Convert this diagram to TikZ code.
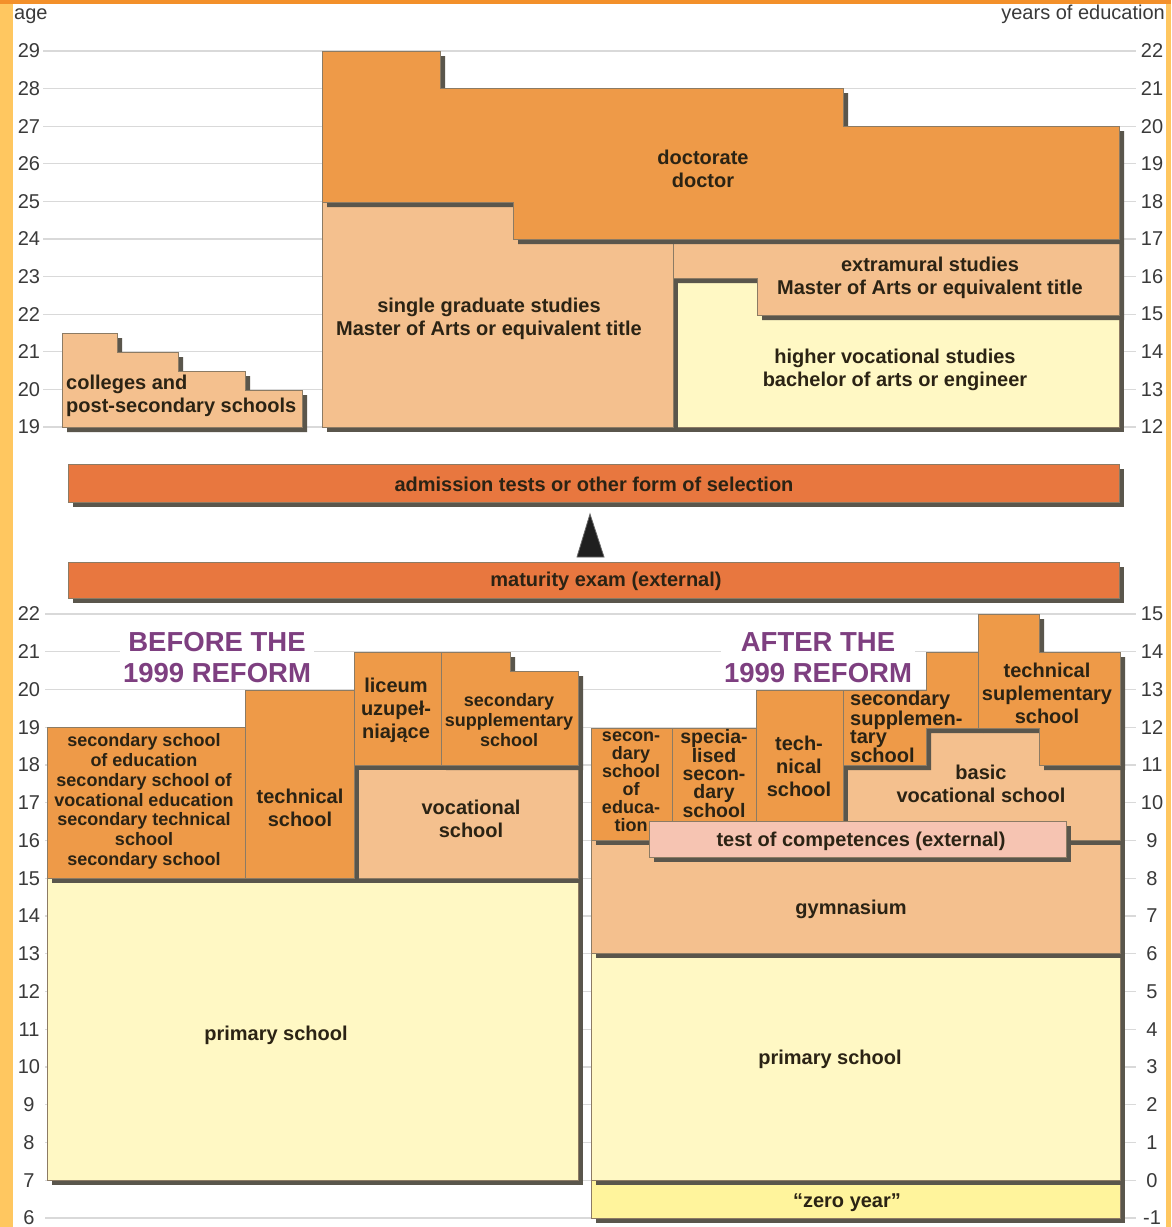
\documentclass[tikz,border=0pt]{standalone}
\usepackage{fontspec}
\setmainfont{Liberation Sans}

\definecolor{deep}{HTML}{EE9A48}
\definecolor{pale}{HTML}{F4C08E}
\definecolor{cream}{HTML}{FFF8C4}
\definecolor{zeroc}{HTML}{FFF49C}
\definecolor{barc}{HTML}{E8773F}
\definecolor{testc}{HTML}{F6C4B2}
\definecolor{shade}{HTML}{5A564C}
\definecolor{edge}{HTML}{8C7B64}
\definecolor{ink}{HTML}{2B2314}
\definecolor{plum}{HTML}{7E3F80}
\definecolor{gridc}{HTML}{D9D9D9}
\definecolor{axisc}{HTML}{3A3A3A}
\definecolor{frameA}{HTML}{FFC760}
\definecolor{frameB}{HTML}{F3902A}

\begin{document}
\begin{tikzpicture}[x=1pt,y=-1pt,
  blk/.style={draw=edge,line width=0.6pt,fill=#1,
    preaction={fill=shade,transform canvas={xshift=5pt,yshift=-5pt}}},
  lbl/.style={text=ink,align=center,inner sep=0pt,
    font=\bfseries\fontsize{20}{23}\selectfont},
  lbls/.style={lbl,font=\bfseries\fontsize{18}{19.8}\selectfont},
  lblt/.style={lbl,font=\bfseries\fontsize{18}{18}\selectfont},
  ttl/.style={text=plum,align=center,fill=white,inner sep=3pt,
    font=\bfseries\fontsize{27.5}{31}\selectfont},
  axl/.style={text=axisc,inner sep=0pt,font=\fontsize{20}{20}\selectfont},
  gridline/.style={draw=gridc,line width=1.2pt}]
\useasboundingbox (0,0) rectangle (1171,1227);

% frame
\fill[white] (0,0) rectangle (1171,1227);
\fill[frameA] (0,0) rectangle (13,1227);
\fill[frameA] (1166,0) rectangle (1171,1227);
\fill[frameB] (0,0) rectangle (1171,4);

\node[axl,anchor=base west] (agehead) at (14,19) {age};
\node[axl,anchor=base east] (yearhead) at (1165,19) {years of education};

% upper scale: ages 19--29
\foreach \a in {19,...,29}{
  \pgfmathsetmacro{\yy}{51+(29-\a)*37.6}
  \pgfmathtruncatemacro{\yr}{\a-7}
  \draw[gridline] (43,\yy) -- (1136,\yy);
  \node[axl] (ageU\a) at (29,\yy) {\a};
  \node[axl] (yrU\a) at (1152,\yy) {\yr};
}

% lower scale: ages 6--22
\foreach \a in {6,...,22}{
  \pgfmathsetmacro{\yy}{614+(22-\a)*37.75}
  \pgfmathtruncatemacro{\yr}{\a-7}
  \draw[gridline] (45,\yy) -- (1136,\yy);
  \node[axl] (ageL\a) at (29,\yy) {\a};
  \node[axl] (yrL\a) at (1152,\yy) {\yr};
}

% higher education
\draw[blk=cream] (673,278) rectangle (1119,427);
\draw[blk=pale] (322,202) rectangle (673,427);
\draw[blk=pale] (673,239) -- (1119,239) -- (1119,315) -- (757,315) -- (757,278) -- (673,278) -- cycle;
\draw[blk=deep] (322,51) -- (440,51) -- (440,88) -- (843,88) -- (843,126) -- (1119,126)
  -- (1119,239) -- (513,239) -- (513,202) -- (322,202) -- cycle;
\draw[blk=pale] (62,333) -- (117,333) -- (117,352) -- (178,352) -- (178,371) -- (245,371)
  -- (245,390) -- (302,390) -- (302,427) -- (62,427) -- cycle;

\node[lbl] (doct) at (703,168.5) {doctorate\\doctor};
\node[lbl] (sgs) at (489,319) {single graduate studies\\Master of Arts or equivalent title};
\node[lbl] (extr) at (930,278) {extramural studies\\Master of Arts or equivalent title};
\node[lbl] (hvs) at (895,370) {higher vocational studies\\bachelor of arts or engineer};
\node[lbl,anchor=west,align=left] (coll) at (66,396) {colleges and\\post-secondary schools};

% selection bars
\draw[blk=barc] (68,464) rectangle (1119,502);
\draw[blk=barc] (68,562) rectangle (1119,598);
\node[lbl] (adm) at (594,484) {admission tests or other form of selection};
\node[lbl] (mat) at (606,581) {maturity exam (external)};
\coordinate (tip) at (590,514);
\draw[draw=black!60,fill=black!88,line width=0.8pt] (tip) -- (604,557) -- (577,557) -- cycle;

% titles
\node[ttl] (before) at (217,657.5) {BEFORE THE\\1999 REFORM};
\node[ttl] (after) at (818,657.5) {AFTER THE\\1999 REFORM};

% before the reform
\draw[blk=cream] (47,878) rectangle (578,1180);
\draw[blk=pale] (354,765) rectangle (578,878);
\draw[blk=deep] (47,727) rectangle (245,878);
\draw[blk=deep] (245,690) rectangle (354,878);
\draw[blk=deep] (354,652) rectangle (441,765);
\draw[blk=deep] (441,652) -- (510,652) -- (510,671) -- (578,671) -- (578,765) -- (441,765) -- cycle;

\node[lbls] (secA) at (144,801.5) {secondary school\\of education\\secondary school of\\vocational education\\secondary technical\\school\\secondary school};
\node[lbl] (techA) at (300,808) {technical\\school};
\node[lbl] (lic) at (396,710.5) {liceum\\uzupeł-\\niające};
\node[lbls,font=\bfseries\fontsize{18}{20}\selectfont] (supA) at (509,720) {secondary\\supplementary\\school};
\node[lbl] (vocA) at (471,819) {vocational\\school};
\node[lbl] (primA) at (276,1035) {primary school};

% after the reform
\draw[blk=zeroc] (591,1180) rectangle (1120,1218);
\draw[blk=cream] (591,953) rectangle (1120,1180);
\draw[blk=pale] (591,840) rectangle (1120,953);
\draw[blk=pale] (843,728) rectangle (1120,840);
\draw[blk=deep] (591,728) rectangle (672,840);
\draw[blk=deep] (672,728) rectangle (756,840);
\draw[blk=deep] (756,690) rectangle (843,840);
\draw[blk=deep] (843,690) -- (926,690) -- (926,652) -- (978,652) -- (978,728) -- (926,728)
  -- (926,765) -- (843,765) -- cycle;
\draw[blk=deep] (978,614) -- (1039,614) -- (1039,652) -- (1120,652) -- (1120,765) -- (1039,765)
  -- (1039,728) -- (978,728) -- cycle;
\draw[blk=testc] (649,821) rectangle (1066,857);

\node[lblt] (secB) at (631,782) {secon-\\dary\\school\\of\\educa-\\tion};
\node[lblt,font=\bfseries\fontsize{19.5}{18.3}\selectfont] (spec) at (714,773.5) {specia-\\lised\\secon-\\dary\\school};
\node[lbl] (techB) at (799,766) {tech-\\nical\\school};
\node[lbl,anchor=west,align=left,font=\bfseries\fontsize{20}{18}\selectfont] (supB) at (850,727) {secondary\\supplemen-\\tary\\school};
\node[lbl] (techsup) at (1047,693) {technical\\suplementary\\school};
\node[lbl] (basic) at (981,784) {basic\\vocational school};
\node[lbl] (test) at (861,841) {test of competences (external)};
\node[lbl] (gym) at (851,909) {gymnasium};
\node[lbl] (primB) at (830,1059) {primary school};
\node[lbl] (zero) at (847,1203) {“zero year”};

\end{tikzpicture}
\end{document}
